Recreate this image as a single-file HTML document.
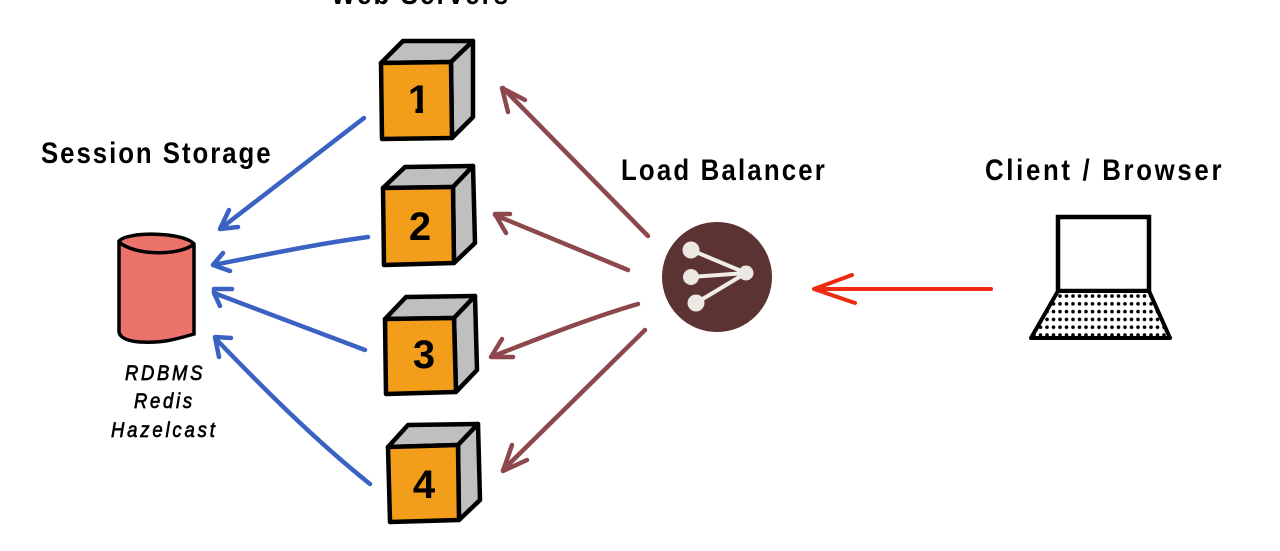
<!DOCTYPE html>
<html><head><meta charset="utf-8">
<style>
html,body{margin:0;padding:0;background:#fff;width:1280px;height:551px;overflow:hidden}
svg{display:block}
text{font-family:"Liberation Sans",sans-serif;fill:#000}
.h{font-size:30px;font-weight:bold}
.s{font-size:21px;font-style:italic;stroke:#000;stroke-width:.7px}
.n{font-size:40px;font-weight:bold;text-anchor:middle}
.f{fill:#f29e1a;stroke:#000;stroke-width:4.5;stroke-linejoin:round}
.g{fill:#bfbfbf;stroke:#000;stroke-width:4.5;stroke-linejoin:round}
.b{fill:none;stroke:#3a62c2;stroke-width:4.5;stroke-linecap:round;stroke-linejoin:round}
.r{fill:none;stroke:#8c484c;stroke-width:4.5;stroke-linecap:round;stroke-linejoin:round}
</style></head><body>
<svg width="1280" height="551" viewBox="0 0 1280 551" xmlns="http://www.w3.org/2000/svg">
<defs>
<pattern id="d" x="1031" y="293" width="6.5" height="7.8" patternUnits="userSpaceOnUse"><circle cx="3" cy="3" r="1.8" fill="#000"/></pattern>
</defs>
<text class="h" transform="translate(331,4) scale(.86,1)" textLength="206" lengthAdjust="spacing">Web Servers</text>
<text class="h" transform="translate(41,163) scale(.86,1)" textLength="267" lengthAdjust="spacing">Session Storage</text>
<text class="h" transform="translate(621,180) scale(.86,1)" textLength="237" lengthAdjust="spacing">Load Balancer</text>
<text class="h" transform="translate(985,180) scale(.86,1)" textLength="275" lengthAdjust="spacing">Client / Browser</text>

<path class="g" d="M381 63 403 41H473L451 62Z"/>
<path class="g" d="M451 62 473 41V117L452 138Z"/>
<path class="f" d="M381 63 451 62 452 138 382 139Z"/>

<path class="g" d="M383 188 405 167 473 166 453 187Z"/>
<path class="g" d="M453 187 473 166 475 243 454 263Z"/>
<path class="f" d="M383 188 453 187 454 263 384 265Z"/>

<path class="g" d="M385 319 406 297 475 296 454 318Z"/>
<path class="g" d="M454 318 475 296 477 370 456 392Z"/>
<path class="f" d="M385 319 454 318 456 392 386 394Z"/>

<path class="g" d="M388 447 408 425 478 424 458 445Z"/>
<path class="g" d="M458 445 478 424 480 500 459 520Z"/>
<path class="f" d="M388 447 458 445 459 520 390 522Z"/>

<text class="n" x="419" y="113">1</text>
<rect x="405" y="105" width="10.5" height="10" fill="#f29e1a"/>
<rect x="423" y="105" width="10" height="10" fill="#f29e1a"/>
<text class="n" x="420" y="240">2</text>
<text class="n" x="424" y="368">3</text>
<text class="n" x="424" y="498">4</text>

<path fill="#ec736c" stroke="#000" stroke-width="3.5" d="M119 241C128 231 184 232 194 244V334C170 341 160 343 140 342 128 341 120 338 119 332Z"/>
<path fill="none" stroke="#000" stroke-width="3.5" d="M119 242C135 256 180 256 194 244"/>
<text class="s" transform="translate(125,380) scale(.88,1)" textLength="88" lengthAdjust="spacing">RDBMS</text>
<text class="s" transform="translate(134,408) scale(.88,1)" textLength="66" lengthAdjust="spacing">Redis</text>
<text class="s" transform="translate(111,437) scale(.88,1)" textLength="118" lengthAdjust="spacing">Hazelcast</text>

<path class="b" d="M364 118 220 229M229 210 220 229 238 227"/>
<path class="b" d="M368 237C310 245 265 255 213 265M223 253 213 265 230 271"/>
<path class="b" d="M365 350 214 293M232 289 214 289 214 293 220 306"/>
<path class="b" d="M370 484C315 440 265 390 215 338M231 338 215 337 219 357"/>

<path class="r" d="M648 236 503 88M525 100 502 88 508 112"/>
<path class="r" d="M628 270 495 215M510 214 495 214 506 233"/>
<path class="r" d="M638 304C590 318 540 338 491 357M502 339 491 357 513 357"/>
<path class="r" d="M645 330 503 470M512 445 503 471 527 460"/>

<circle cx="717" cy="277" r="55" fill="#5a3332"/>
<g fill="#ece8e3">
<path d="M691 250 746 273 691 277M746 273 696 303" fill="none" stroke="#f1ece6" stroke-width="4"/>
<circle cx="691" cy="250" r="8.5"/>
<circle cx="691" cy="277" r="8"/>
<circle cx="696" cy="303" r="8.5"/>
<circle cx="746" cy="273" r="7.5"/>
</g>

<path fill="none" stroke="#ee2a12" stroke-width="4" stroke-linecap="round" stroke-linejoin="round" d="M991 289H815M852 275 814 289 855 303"/>

<rect x="1058" y="217" width="91" height="74" fill="#fff" stroke="#000" stroke-width="4.5"/>
<path d="M1058 291H1149L1170 338H1031Z" fill="#fff"/>
<path d="M1058 291H1149L1170 338H1031Z" fill="url(#d)" stroke="#000" stroke-width="4" stroke-linejoin="round"/>
</svg>
</body></html>
